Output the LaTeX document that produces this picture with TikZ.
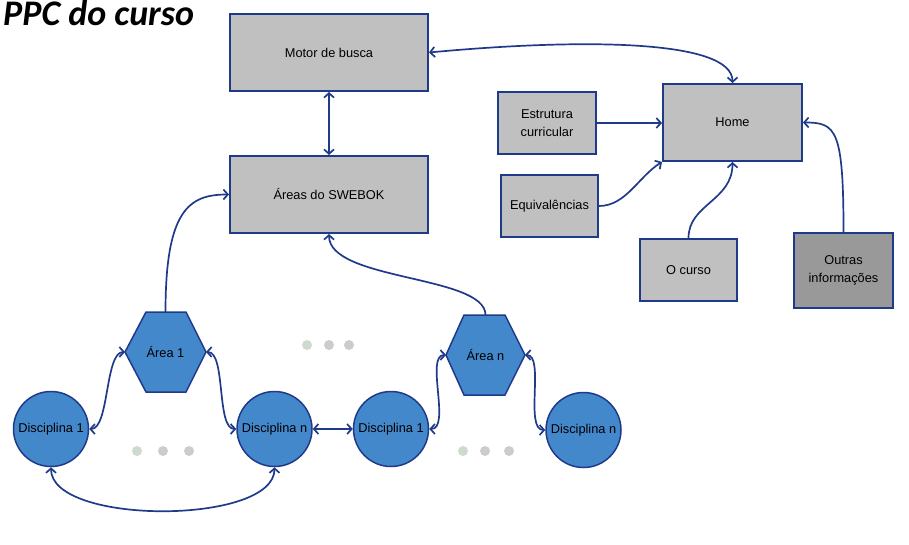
\documentclass[tikz,border=0pt]{standalone}
\usepackage{fontspec}
\setmainfont{Liberation Sans}
\newfontfamily\titlefont{Carlito}
\usetikzlibrary{arrows.meta}
\definecolor{edge}{RGB}{32,58,138}
\definecolor{boxgray}{RGB}{192,192,192}
\definecolor{darkgray}{RGB}{153,153,153}
\definecolor{blueshape}{RGB}{68,136,204}
\definecolor{dotgreen}{RGB}{206,218,206}
\definecolor{dotgray}{RGB}{204,204,204}
\tikzset{
  pbox/.style={draw=edge, line width=2pt, fill=boxgray, inner sep=0pt, align=center},
  disc/.style={circle, draw=edge, line width=1.5pt, fill=blueshape, minimum size=75pt, inner sep=0pt},
  hexshape/.style={draw=edge, line width=1.5pt, fill=blueshape},
  conn/.style={draw=edge, line width=1.7pt},
  >={Straight Barb[length=4.5pt,width=10pt]}
}
\begin{document}
\begin{tikzpicture}[x=1pt,y=-1pt,font=\fontsize{12.8}{18}\selectfont]
\useasboundingbox (0,0) rectangle (909,545);

\node[anchor=base west, inner sep=0pt, font=\titlefont\bfseries\itshape\fontsize{36}{40}\selectfont] (title) at (3,26) {PPC do curso};

% boxes
\node[pbox, minimum width=198pt, minimum height=77pt] (motor) at (329,52.5) {Motor de busca};
\node[pbox, minimum width=198pt, minimum height=77pt] (swebok) at (329,194.5) {Áreas do SWEBOK};
\node[pbox, minimum width=139pt, minimum height=77pt] (home) at (732.5,122.5) {Home};
\node[pbox, minimum width=98pt, minimum height=62pt] (estr) at (547,123) {Estrutura\\curricular};
\node[pbox, minimum width=97pt, minimum height=62pt] (equiv) at (549.5,206) {Equivalências};
\node[pbox, minimum width=97pt, minimum height=62pt] (ocurso) at (688.5,270) {O curso};
\node[pbox, fill=darkgray, minimum width=99pt, minimum height=75pt] (outras) at (843.5,270.5) {Outras\\informações};

% hexagons
\path[hexshape] (125,352) -- (146,312) -- (186,312) -- (206,352) -- (186,392) -- (146,392) -- cycle;
\node (a1) at (165.5,352) {Área 1};
\coordinate (a1L) at (125,352);
\coordinate (a1R) at (206,352);
\coordinate (a1top) at (165.5,312);

\path[hexshape] (446,355) -- (464,315) -- (505,315) -- (525,355) -- (505,395) -- (464,395) -- cycle;
\node (an) at (485.5,355) {Área n};
\coordinate (anL) at (446,355);
\coordinate (anR) at (525,355);
\coordinate (antop) at (485.5,315);

% circles
\node[disc] (d1) at (51,429) {Disciplina 1};
\node[disc] (dn) at (274.5,429) {Disciplina n};
\node[disc] (d1b) at (391,429) {Disciplina 1};
\node[disc] (dnb) at (583.5,430) {Disciplina n};

% dots
\fill[dotgreen] (307,345) circle (5pt);
\fill[dotgray] (329,345) circle (5pt);
\fill[dotgray] (349,345) circle (5pt);
\fill[dotgreen] (137,451) circle (5pt);
\fill[dotgray] (163,451) circle (5pt);
\fill[dotgray] (189,451) circle (5pt);
\fill[dotgreen] (463,451) circle (5pt);
\fill[dotgray] (485,451) circle (5pt);
\fill[dotgray] (509,451) circle (5pt);

% connectors
\draw[conn,<->] (motor.south) -- (swebok.north);
\draw[conn,<->] (motor.east) .. controls +(150,-14) and +(0,-44) .. (home.north);
\draw[conn,->] (estr.east) -- (estr.east -| home.west);
\draw[conn,->] (equiv.east) .. controls +(27,0) and +(-23,14) .. (home.south west);
\draw[conn,->] (ocurso.north) .. controls +(0,-34) and +(0,39) .. (home.south);
\draw[conn,->] (outras.north) .. controls +(0,-103) and +(33,0) .. (home.east);
\draw[conn,->] (a1top) .. controls +(0,-102) and +(-40,0) .. (swebok.west);
\draw[conn,->] (antop) .. controls +(0,-40) and +(0,47) .. (swebok.south);
\draw[conn,<->] (a1L) .. controls +(-20,0) and +(20,0) .. (d1.east);
\draw[conn,<->] (a1R) .. controls +(20,0) and +(-20,0) .. (dn.west);
\draw[conn,<->] (dn.east) -- (d1b.west);
\draw[conn,<->] (anL) .. controls +(-21,0) and +(22,0) .. (d1b.east);
\draw[conn,<->] (anR) .. controls +(20,0) and +(-21,0) .. (dnb.west);
\draw[conn,<->] (d1.south) .. controls +(0,58) and +(0,58) .. (dn.south);
\end{tikzpicture}
\end{document}
